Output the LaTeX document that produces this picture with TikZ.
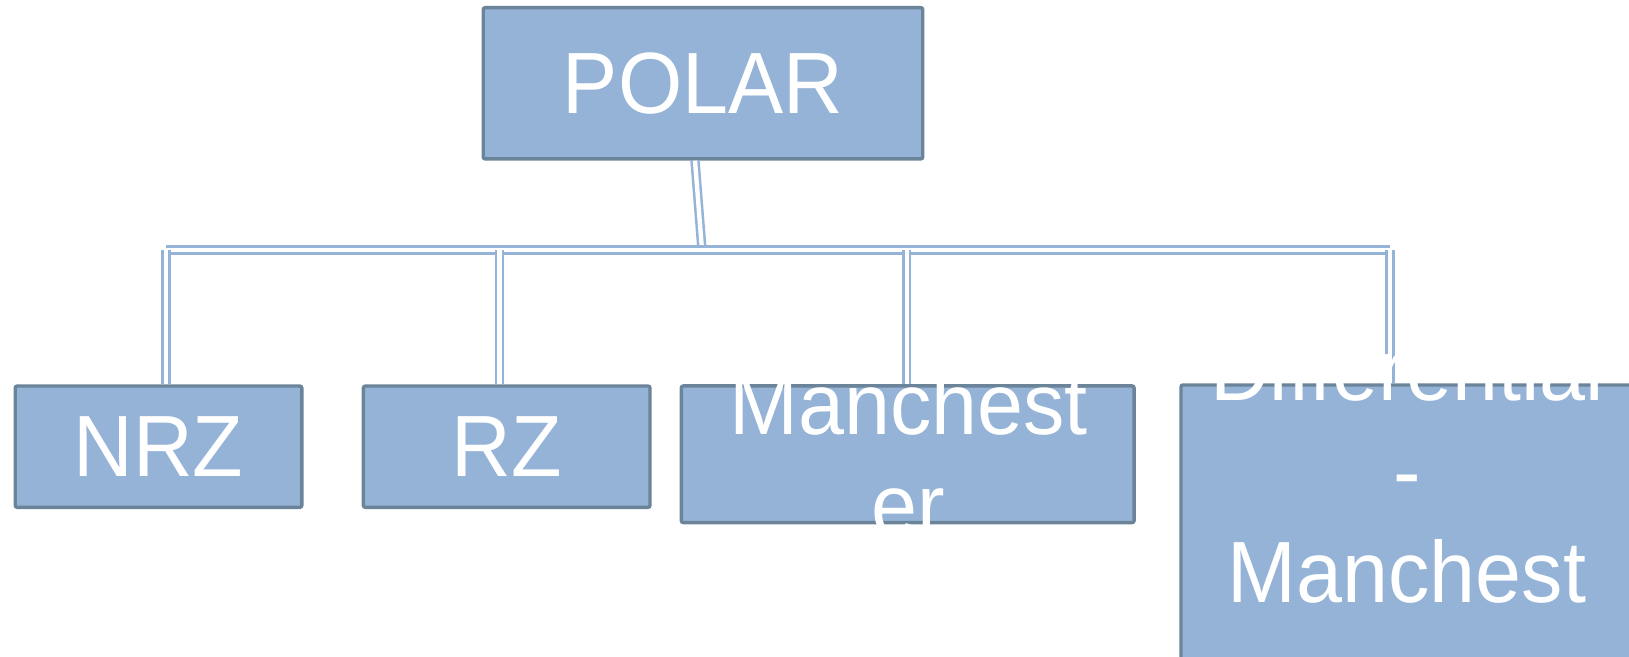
\documentclass[tikz,border=0pt]{standalone}
\usepackage{fontspec}
\setmainfont[FakeStretch=0.95]{Liberation Sans}
\usetikzlibrary{calc}
\definecolor{boxfill}{HTML}{95B3D7}
\definecolor{boxline}{HTML}{6C8499}
\begin{document}
\begin{tikzpicture}[x=0.5pt,y=-0.5pt,
    box/.style={draw=boxline, line width=1.7pt, fill=boxfill, rounded corners=1pt,
        inner sep=0pt, text=white, font=\fontsize{43.5}{50.5}\selectfont},
    lbl/.style={text=white, font=\fontsize{43.5}{50.5}\selectfont, text width=230pt,
        align=center, inner sep=0pt, anchor=base},
    link/.style={draw=boxfill, line width=1.25pt, double=white, double distance=2.2pt}]
        \path[use as bounding box, fill=white] (0,0) rectangle (1629,657);
        % boxes
        \node[box, minimum width=219.75pt, minimum height=75.65pt] (polar) at (703,83.3) {POLAR};
        \node[box, minimum width=143.3pt, minimum height=60.65pt] (nrz) at (158.5,446.7) {NRZ};
        \node[box, minimum width=143.3pt, minimum height=60.65pt] (rz) at (506.7,446.7) {RZ};
        \node[box, minimum width=226.35pt, minimum height=68.35pt] (man) at (907.7,454.3) {};
        \node[box, minimum width=226pt, minimum height=160pt] (diff) at (1407,545) {};
        % connectors
        \coordinate (hub) at (702,250);
        \coordinate (busL) at (166,250);
        \coordinate (busR) at (1390,250);
        \coordinate (dRZ) at (499.5,250);
        \coordinate (dMan) at (906.7,250);
        \draw[link] ($(polar.south)+(-8,0)$) -- (hub);
        \draw[link] (busL) -- (busR);
        \foreach \t/\b in {busL/nrz, dRZ/rz, dMan/man, busR/diff}
            \draw[link] (\t) -- (\t |- \b.north);
        % texts running out of their boxes
        \node[lbl] (manT) at (908.7,435) {Manchest\\er};
        \node[lbl] (diffT) at (1407,400.7) {Differential\\-\\Manchest};
    \end{tikzpicture}
\end{document}
